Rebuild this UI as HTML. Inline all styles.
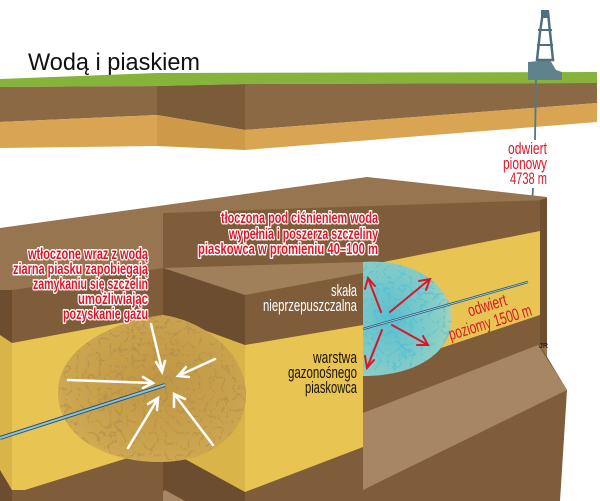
<!DOCTYPE html>
<html><head><meta charset="utf-8"><style>
html,body{margin:0;padding:0;background:#fff}
svg{display:block}
.n{font-family:"Liberation Sans Narrow","Liberation Sans",sans-serif}
.rw{fill:#d8182a;stroke:#fff;stroke-width:3;paint-order:stroke;stroke-linejoin:round;font-weight:bold;font-size:16px}
</style></head><body>
<svg width="600" height="501" viewBox="0 0 600 501" xmlns="http://www.w3.org/2000/svg">
<defs>
<filter id="vein" x="0" y="0" width="100%" height="100%">
<feTurbulence type="turbulence" baseFrequency="0.09" numOctaves="3" seed="3"/>
<feColorMatrix type="matrix" values="0 0 0 0 0.35  0 0 0 0 0.22  0 0 0 0 0.08  -6 0 0 0 1.1"/>
</filter>
<filter id="veinb" x="0" y="0" width="100%" height="100%">
<feTurbulence type="turbulence" baseFrequency="0.09" numOctaves="3" seed="7"/>
<feColorMatrix type="matrix" values="0 0 0 0 0.05  0 0 0 0 0.5  0 0 0 0 0.7  -6 0 0 0 1.1"/>
</filter>
<radialGradient id="gb" cx="0.3" cy="0.5" r="0.75">
<stop offset="0" stop-color="#5cbfd0"/><stop offset="0.75" stop-color="#8ccfc6"/><stop offset="1" stop-color="#c9d49a"/>
</radialGradient>
<radialGradient id="gl" cx="0.55" cy="0.45" r="0.6">
<stop offset="0" stop-color="#c09744"/><stop offset="0.85" stop-color="#cda650"/><stop offset="1" stop-color="#d6b252"/>
</radialGradient>
<clipPath id="cl"><path d="M163,315 C120,320 58,345 58,392 C58,440 110,462 160,462 C215,462 246,430 246,395 C246,350 200,320 163,315 Z"/></clipPath>
<clipPath id="cb"><path d="M363,262 C420,258 452,290 452,318 C452,350 420,376 363,376 Z"/></clipPath>
</defs>

<text x="28" y="70" font-family="Liberation Sans, sans-serif" font-size="24" fill="#111" textLength="172" lengthAdjust="spacingAndGlyphs">Wodą i piaskiem</text>

<polygon points="0,79 157,73 597,72 597,83 245,84 157,86 0,87" fill="#86b33a"/>
<polygon points="0,87 157,86 157,115 0,122" fill="#8b6944"/>
<polygon points="0,122 157,115 157,146 0,148" fill="#d9a552"/>
<polygon points="157,86 245,84 245,130 157,115" fill="#7c5b39"/>
<polygon points="157,115 245,130 245,150 157,146" fill="#cf9a48"/>
<polygon points="245,84 597,83 597,103 245,130" fill="#8b6944"/>
<polygon points="245,130 597,103 597,122 245,150" fill="#d9a552"/>

<polygon points="528,62 550,60 556,70 562,72 562,80 528,80" fill="#5f828d"/>
<polygon points="537,60 540,32 543,12 548,12 550,32 553,60" fill="none" stroke="#4f6f7a" stroke-width="2.5"/>
<rect x="541" y="10" width="8" height="8" fill="#4f6f7a"/>
<line x1="538" y1="30" x2="552" y2="30" stroke="#4f6f7a" stroke-width="2"/>
<line x1="537" y1="45" x2="553" y2="45" stroke="#4f6f7a" stroke-width="2"/>

<line x1="536" y1="80" x2="535" y2="140" stroke="#4a7a90" stroke-width="1.8"/>
<line x1="533" y1="188" x2="528" y2="282" stroke="#4a7a90" stroke-width="1.8"/>

<polygon points="0,228 367,177 547,197 547,501 0,501" fill="#977550"/>
<polygon points="163,213 547,200 540,345 567,390 560,501 363,501 363,268 163,268" fill="#7f5d3a"/>
<polygon points="363,266 540,231 540,315 363,374" fill="#e8c552"/>
<polygon points="363,413 538,345 567,390 363,490" fill="#a68663"/>
<polygon points="540,200 547,198 547,345 540,345" fill="#6e5031"/>

<polygon points="163,268 363,262 363,273 245,295" fill="#a0805a"/>
<polygon points="163,268 245,295 245,501 163,501" fill="#6c4d2f"/>
<polygon points="163,315 245,345 245,492 163,447" fill="#d9b448"/>
<polygon points="245,295 363,273 363,501 245,501" fill="#7f5d3a"/>
<polygon points="245,345 363,325 363,447 245,492" fill="#e8c552"/>
<polygon points="150,501 165,490 185,501" fill="#a68663"/>

<polygon points="12,290 163,268 163,501 12,501" fill="#7f5d3a"/>
<polygon points="12,343 163,315 163,447 25,490 12,490" fill="#e8c552"/>
<polygon points="0,290 12,290 12,501 0,501" fill="#6c4d2f"/>
<polygon points="0,335 12,343 12,490 0,470" fill="#d9b448"/>

<g clip-path="url(#cl)">
<rect x="55" y="312" width="195" height="152" fill="url(#gl)"/>
<rect x="55" y="312" width="195" height="152" filter="url(#vein)" opacity="0.6"/>
</g>
<line x1="0" y1="438" x2="165" y2="385" stroke="#2e5670" stroke-width="4"/>
<line x1="0" y1="438" x2="165" y2="385" stroke="#8cc3dc" stroke-width="2"/>
<g stroke="#fff" stroke-width="2.5" fill="none" stroke-linecap="round">
<line x1="151" y1="324" x2="162" y2="370"/><polyline points="156,362 162,372 165,361"/>
<line x1="68" y1="380" x2="152" y2="383"/><polyline points="143,377 153,383 143,388"/>
<line x1="215" y1="359" x2="180" y2="375"/><polyline points="186,367 178,376 189,377"/>
<line x1="128" y1="448" x2="157" y2="400"/><polyline points="148,404 158,398 157,410"/>
<line x1="213" y1="445" x2="175" y2="395"/><polyline points="174,407 174,394 185,399"/>
</g>

<g clip-path="url(#cb)">
<rect x="363" y="258" width="92" height="120" fill="url(#gb)"/>
<rect x="363" y="258" width="92" height="120" filter="url(#veinb)" opacity="0.7"/>
</g>
<line x1="363" y1="329" x2="528" y2="282" stroke="#2e5670" stroke-width="2.4"/>
<line x1="363" y1="329" x2="528" y2="282" stroke="#9fd0e2" stroke-width="0.9"/>
<g stroke="#d8182a" stroke-width="2" fill="none" stroke-linecap="round">
<line x1="381" y1="312" x2="368" y2="278"/><polyline points="365,289 368,278 375,286"/>
<line x1="390" y1="312" x2="430" y2="279"/><polyline points="419,281 430,279 426,290"/>
<line x1="392" y1="325" x2="428" y2="345"/><polyline points="423,336 428,345 417,345"/>
<line x1="382" y1="330" x2="367" y2="368"/><polyline points="365,356 367,368 374,360"/>
</g>

<g class="n rw" text-anchor="end">
<text x="148" y="259" textLength="120" lengthAdjust="spacingAndGlyphs">wtłoczone wraz z wodą</text>
<text x="148" y="274" textLength="135" lengthAdjust="spacingAndGlyphs">ziarna piasku zapobiegają</text>
<text x="148" y="289" textLength="115" lengthAdjust="spacingAndGlyphs">zamykaniu się szczelin</text>
<text x="148" y="304" textLength="70" lengthAdjust="spacingAndGlyphs">umożliwiając</text>
<text x="148" y="319" textLength="85" lengthAdjust="spacingAndGlyphs">pozyskanie gazu</text>
<text x="378" y="223" textLength="157" lengthAdjust="spacingAndGlyphs">tłoczona pod ciśnieniem woda</text>
<text x="378" y="239" textLength="149" lengthAdjust="spacingAndGlyphs">wypełnia i poszerza szczeliny</text>
<text x="378" y="254" textLength="180" lengthAdjust="spacingAndGlyphs">piaskowca w promieniu 40–100 m</text>
</g>
<g class="n" font-size="17" fill="#d8182a" text-anchor="end">
<text x="547" y="154" textLength="39" lengthAdjust="spacingAndGlyphs">odwiert</text>
<text x="547" y="169" textLength="44" lengthAdjust="spacingAndGlyphs">pionowy</text>
<text x="547" y="184" textLength="37" lengthAdjust="spacingAndGlyphs">4738 m</text>
</g>
<g class="n" font-size="17" fill="#d8182a" text-anchor="middle">
<text x="487" y="311" transform="rotate(-17 487 305)" textLength="40" lengthAdjust="spacingAndGlyphs">odwiert</text>
<text x="490" y="328" transform="rotate(-17 490 322)" textLength="86" lengthAdjust="spacingAndGlyphs">poziomy 1500 m</text>
</g>
<g class="n" font-size="17" text-anchor="end">
<text x="357" y="296" fill="#fff" textLength="26" lengthAdjust="spacingAndGlyphs">skała</text>
<text x="357" y="311" fill="#fff" textLength="94" lengthAdjust="spacingAndGlyphs">nieprzepuszczalna</text>
<text x="357" y="363" fill="#1a1208" textLength="44" lengthAdjust="spacingAndGlyphs">warstwa</text>
<text x="357" y="378" fill="#1a1208" textLength="69" lengthAdjust="spacingAndGlyphs">gazonośnego</text>
<text x="357" y="393" fill="#1a1208" textLength="52" lengthAdjust="spacingAndGlyphs">piaskowca</text>
</g>
<text x="539" y="348" font-family="Liberation Sans, sans-serif" font-size="7" font-weight="bold" fill="#222">JR</text>
</svg>
</body></html>
